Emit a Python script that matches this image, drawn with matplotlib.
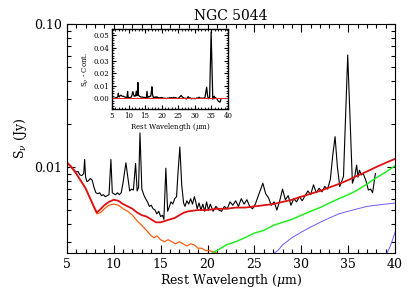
import numpy as np
import matplotlib
matplotlib.use('Agg')
import matplotlib.pyplot as plt
from matplotlib.ticker import MultipleLocator, FixedLocator, NullFormatter

plt.rcParams['font.family'] = 'DejaVu Serif'
plt.rcParams['mathtext.fontset'] = 'dejavuserif'

# observed spectrum (rest wavelength in micron, flux in Jy)
wave = [5.0, 5.2, 5.4, 5.6, 5.8, 6.0, 6.2, 6.4, 6.6, 6.8, 6.9, 7.0, 7.15, 7.3, 7.5, 7.7, 7.9,
        8.1, 8.3, 8.5, 8.7, 8.9, 9.1, 9.3, 9.5, 9.7, 9.85, 10.0, 10.2, 10.4, 10.6, 10.8, 11.0,
        11.3, 11.5, 11.7, 11.9, 12.1, 12.33, 12.5, 12.65, 12.8, 13.0, 13.2, 13.4, 13.6, 13.8,
        14.0, 14.2, 14.4, 14.6, 14.8, 15.0, 15.2, 15.35, 15.56, 15.75, 15.9, 16.1, 16.3, 16.5,
        16.7, 16.85, 17.05, 17.25, 17.45, 17.6, 17.8, 18.0, 18.2, 18.4, 18.6, 18.75, 18.9, 19.1,
        19.3, 19.5, 19.7, 19.9, 20.1, 20.3, 20.6, 20.9, 21.2, 21.5, 21.8, 22.1, 22.4, 22.7, 23.0,
        23.3, 23.6, 23.9, 24.2, 24.5, 24.8, 25.1, 25.5, 25.9, 26.2, 26.5, 26.8, 27.1, 27.4, 27.7,
        28.0, 28.3, 28.6, 28.9, 29.2, 29.5, 29.8, 30.1, 30.4, 30.7, 31.0, 31.3, 31.6, 31.9, 32.2,
        32.5, 32.8, 33.1, 33.35, 33.6, 33.85, 34.1, 34.5, 34.95, 35.45, 35.7, 35.9, 36.05, 36.2,
        36.4, 36.6, 36.9, 37.15, 37.4, 37.6, 37.9]
flux = [0.0108, 0.0104, 0.0102, 0.0097, 0.0095, 0.0092, 0.0093, 0.0088, 0.0087, 0.0090, 0.0113,
        0.0085, 0.0079, 0.0080, 0.0083, 0.0081, 0.0072, 0.0066, 0.0065, 0.0066, 0.0063, 0.0064,
        0.0062, 0.0063, 0.0064, 0.0113, 0.0066, 0.0065, 0.0064, 0.0066, 0.0064, 0.0066, 0.0078,
        0.0107, 0.0085, 0.0068, 0.0070, 0.0069, 0.0106, 0.0068, 0.0072, 0.0173, 0.0070, 0.0064,
        0.0060, 0.0057, 0.0053, 0.0054, 0.0051, 0.0050, 0.0047, 0.0049, 0.0045, 0.0046, 0.0043,
        0.0098, 0.0049, 0.0052, 0.0057, 0.0055, 0.0060, 0.0062, 0.0090, 0.0138, 0.0075, 0.0056,
        0.0053, 0.0058, 0.0055, 0.0060, 0.0055, 0.0062, 0.0057, 0.0051, 0.0056, 0.0050, 0.0055,
        0.0049, 0.0057, 0.0050, 0.0055, 0.0049, 0.0053, 0.0050, 0.0049, 0.0053, 0.0051, 0.0057,
        0.0054, 0.0058, 0.0053, 0.0060, 0.0055, 0.0059, 0.0053, 0.0051, 0.0055, 0.0065, 0.0077,
        0.0065, 0.0061, 0.0054, 0.0057, 0.0050, 0.0058, 0.0070, 0.0059, 0.0063, 0.0054, 0.0060,
        0.0057, 0.0062, 0.0058, 0.0063, 0.0068, 0.0064, 0.0075, 0.0066, 0.0071, 0.0067, 0.0073,
        0.0070, 0.0082, 0.0120, 0.0163, 0.0100, 0.0073, 0.0086, 0.0607, 0.0077, 0.0086, 0.0103,
        0.0085, 0.0095, 0.0088, 0.0090, 0.0080, 0.0069, 0.0070, 0.0066, 0.0090]

# total continuum fit (red)
cont_wave = [5.0, 5.5, 6.0, 6.5, 7.0, 7.5, 8.0, 8.2, 8.5, 9.0, 9.5, 10.0, 10.5, 11.0, 11.5, 12.0,
             12.5, 13.0, 13.5, 14.0, 14.5, 15.0, 15.5, 16.0, 16.5, 17.0, 17.5, 18.0, 19.0, 20.0,
             21.0, 22.0, 23.0, 24.0, 25.0, 26.0, 27.0, 28.0, 29.0, 30.0, 31.0, 32.0, 33.0, 34.0,
             35.0, 36.0, 37.0, 38.0, 39.0, 40.0]
cont_flux = [0.0108, 0.0100, 0.0090, 0.0080, 0.0071, 0.0060, 0.0051, 0.0048, 0.0050, 0.0054,
             0.0057, 0.0059, 0.0058, 0.0055, 0.0053, 0.0051, 0.0048, 0.0046, 0.0045, 0.0043,
             0.0041, 0.0041, 0.0042, 0.0043, 0.0044, 0.0046, 0.0048, 0.0049, 0.0050, 0.0050,
             0.0051, 0.0051, 0.0052, 0.0052, 0.0053, 0.0054, 0.0055, 0.0057, 0.0059, 0.0062,
             0.0065, 0.0068, 0.0072, 0.0076, 0.0081, 0.0087, 0.0093, 0.0100, 0.0107, 0.0114]

# stellar component (orange)
star_wave = [5.0, 6.0, 7.0, 7.5, 8.0, 8.2, 8.6, 9.0, 9.5, 10.0, 10.5, 11.0, 11.5, 12.0, 12.5,
             13.0, 13.5, 14.0, 14.3, 14.6, 15.0, 15.4, 15.8, 16.2, 16.6, 17.0, 17.4, 17.8, 18.2,
             18.6, 19.0, 19.4, 19.8, 20.2, 20.6, 21.0, 21.5, 22.0, 22.5]
star_flux = [0.0108, 0.0090, 0.0071, 0.0060, 0.0050, 0.0047, 0.0048, 0.0051, 0.0054, 0.0055,
             0.0054, 0.0051, 0.0049, 0.0046, 0.0042, 0.0039, 0.0036, 0.0033, 0.0032, 0.0033,
             0.0031, 0.0030, 0.0031, 0.0030, 0.0029, 0.0030, 0.0029, 0.0028, 0.0029, 0.00285,
             0.0027, 0.0027, 0.0026, 0.0026, 0.00255, 0.0025, 0.00245, 0.0024, 0.0023]

# warm dust (green)
warm_wave = [20.0, 21.0, 22.0, 23.0, 24.0, 25.0, 26.0, 27.0, 28.0, 29.0, 30.0, 31.0, 32.0, 33.0,
             34.0, 35.0, 36.0, 37.0, 38.0, 39.0, 40.0]
warm_flux = [0.0024, 0.0026, 0.00285, 0.0030, 0.0032, 0.00345, 0.0036, 0.0039, 0.0041, 0.0043,
             0.0046, 0.0049, 0.0052, 0.0056, 0.0060, 0.0064, 0.0069, 0.0076, 0.0084, 0.0092,
             0.0102]

# cooler dust components (blue)
cool_wave = [26.7, 27.5, 28.0, 29.0, 30.0, 31.0, 32.0, 33.0, 34.0, 35.0, 36.0, 37.0, 38.0, 39.0, 40.0]
cool_flux = [0.0024, 0.0026, 0.00285, 0.0032, 0.0035, 0.0038, 0.0041, 0.0044, 0.0047, 0.0049,
             0.0051, 0.0053, 0.0054, 0.0055, 0.0056]
cold_wave = [39.0, 39.5, 40.0]
cold_flux = [0.0024, 0.0028, 0.0035]

fig = plt.figure(figsize=(4.15, 2.97), dpi=100)
ax = fig.add_axes([0.161, 0.148, 0.791, 0.771])

ax.plot(wave, flux, color='black', lw=0.8)
ax.plot(star_wave, star_flux, color='#ff6010', lw=0.9)
ax.plot(warm_wave, warm_flux, color='#22ee22', lw=1.1)
ax.plot(cool_wave, cool_flux, color='#6a5cff', lw=0.7)
ax.plot(cold_wave, cold_flux, color='#6a5cff', lw=0.7)
ax.plot(cont_wave, cont_flux, color='#dd1111', lw=1.3)

ax.set_yscale('log')
ax.set_xlim(5, 40)
ax.set_ylim(0.0025, 0.1)
ax.xaxis.set_major_locator(MultipleLocator(5))
ax.xaxis.set_minor_locator(MultipleLocator(1))
ax.yaxis.set_major_locator(FixedLocator([0.01, 0.1]))
ax.set_yticklabels(['0.01', '0.10'])
ax.yaxis.set_minor_formatter(NullFormatter())
ax.tick_params(which='both', direction='in', top=True, right=True, labelsize=9)
ax.tick_params(which='major', length=6, width=0.8)
ax.tick_params(which='minor', length=3, width=0.8)
ax.set_xlabel(r'Rest Wavelength ($\mu$m)', fontsize=9, labelpad=1)
ax.set_ylabel(r'S$_\nu$ (Jy)', fontsize=9)
ax.set_title('NGC 5044', fontsize=10, pad=3)

# inset: spectrum minus continuum
resid = np.array(flux) - np.interp(wave, cont_wave, cont_flux)
ins = fig.add_axes([0.270, 0.633, 0.279, 0.269])
ins.plot(wave, resid, color='black', lw=0.9)
ins.axhline(0.0, color='#ee2222', lw=0.7)
ins.set_xlim(5, 40)
ins.set_ylim(-0.0085, 0.055)
ins.xaxis.set_major_locator(MultipleLocator(5))
ins.xaxis.set_minor_locator(MultipleLocator(1))
ins.yaxis.set_major_locator(MultipleLocator(0.01))
ins.yaxis.set_minor_locator(MultipleLocator(0.002))
ins.yaxis.set_major_formatter(matplotlib.ticker.FormatStrFormatter('%.2f'))
ins.tick_params(which='both', direction='in', top=True, right=True, labelsize=5, pad=2)
ins.tick_params(which='major', length=3)
ins.tick_params(which='minor', length=1.5)
ins.set_xlabel(r'Rest Wavelength ($\mu$m)', fontsize=5, labelpad=1)
ins.set_ylabel(r'S$_\nu$ - Cont.', fontsize=5, labelpad=2)
for s in ins.spines.values():
    s.set_linewidth(1.0)

fig.savefig('out.png', dpi=100)
